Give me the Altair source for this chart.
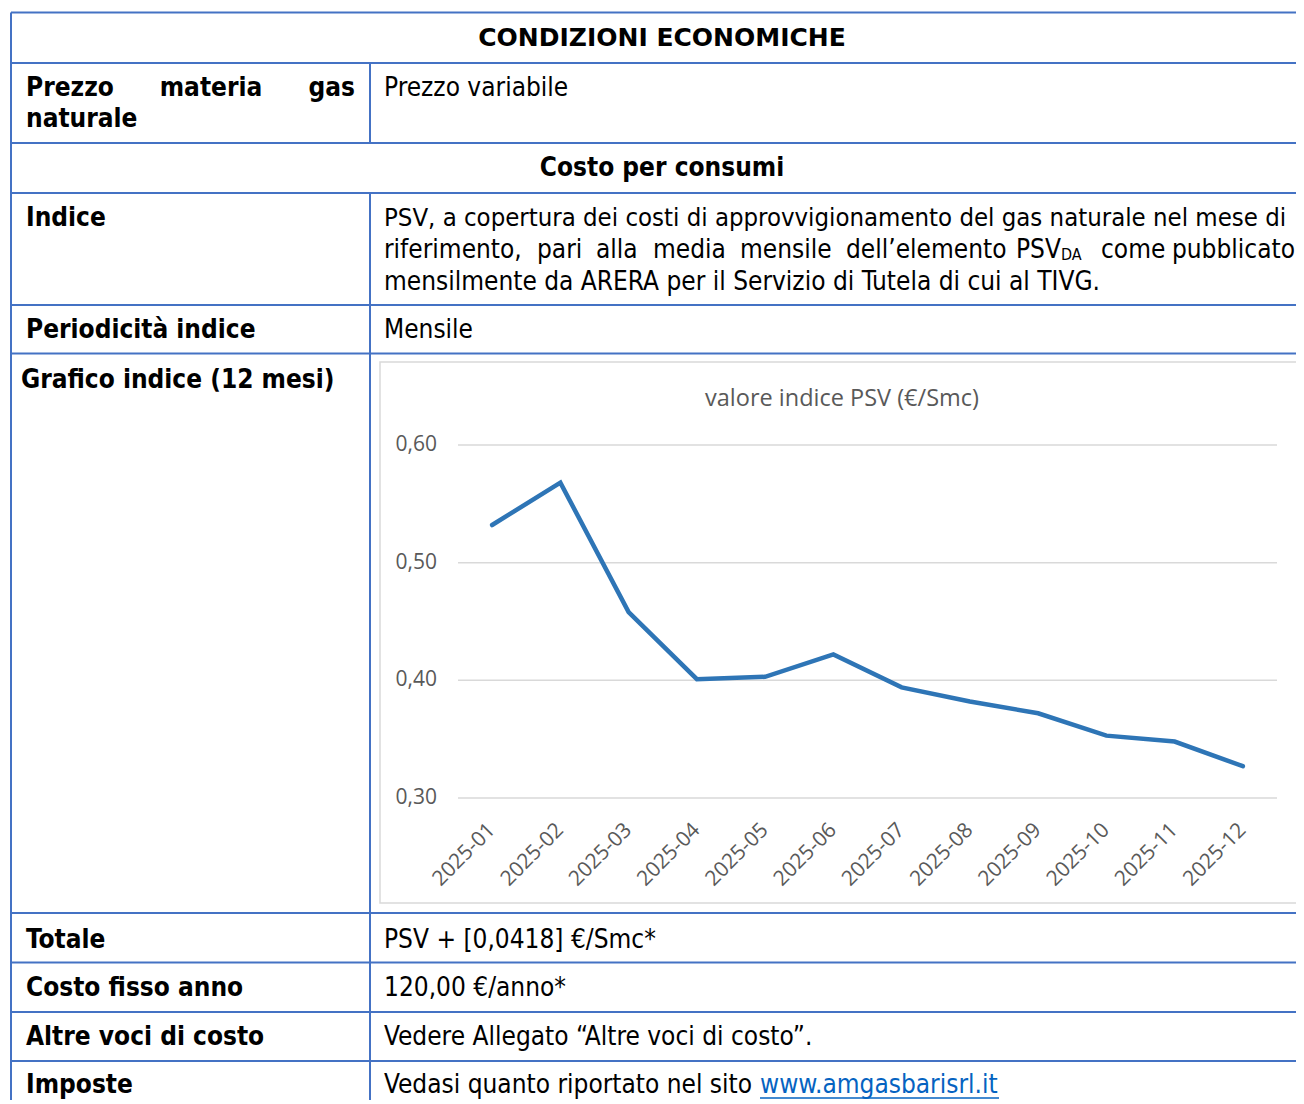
import altair as alt
import pandas as pd

# ---------------- data ----------------
months = ["2025-01", "2025-02", "2025-03", "2025-04", "2025-05", "2025-06",
          "2025-07", "2025-08", "2025-09", "2025-10", "2025-11", "2025-12"]
psv = [0.532, 0.568, 0.458, 0.401, 0.403, 0.422, 0.394, 0.382, 0.372, 0.353, 0.348, 0.327]
y_ticks = [0.30, 0.40, 0.50, 0.60]
y_tick_labels = ["0,30", "0,40", "0,50", "0,60"]
chart_title = "valore indice PSV (€/Smc)"

table_title = "CONDIZIONI ECONOMICHE"
section_title = "Costo per consumi"
label_words_row1 = ["Prezzo", "materia", "gas"]
label_row1_line2 = "naturale"
value_row1 = "Prezzo variabile"
left_labels = ["Indice", "Periodicità indice", "Grafico indice (12 mesi)", "Totale",
               "Costo fisso anno", "Altre voci di costo", "Imposte"]
right_values = ["Mensile", "PSV + [0,0418] €/Smc*", "120,00 €/anno*",
                "Vedere Allegato “Altre voci di costo”.", "Vedasi quanto riportato nel sito"]
desc_line1 = "PSV, a copertura dei costi di approvvigionamento del gas naturale nel mese di"
desc_line2_words = ["riferimento,", "pari", "alla", "media", "mensile", "dell’elemento", "PSV"]
desc_line2_sub = "DA"
desc_line2_tail = ["come", "pubblicato"]
desc_line3 = "mensilmente da ARERA per il Servizio di Tutela di cui al TIVG."
link_text = "www.amgasbarisrl.it"

# ---------------- layout (page pixels) ----------------
W, H = 1288, 1092
OX, OY = 8, 8
TF = "DejaVu Sans Condensed"
TFB = "DejaVu Sans"
CF = "Open Sans"
BLUE = "#4472C4"
FS = 26

px = alt.Scale(domain=[OX, OX + W], range=[0, W], nice=False, zero=False)
py = alt.Scale(domain=[OY, OY + H], range=[0, H], nice=False, zero=False)


def X(f="x"):
    return alt.X(f"{f}:Q", scale=px, axis=None)


def Y(f="y"):
    return alt.Y(f"{f}:Q", scale=py, axis=None)


h_lines_y = [12.5, 63, 143, 193, 305, 353.5, 913, 962.5, 1012, 1061]
rules = pd.DataFrame(
    [{"x": 11, "x2": 1330, "y": y, "y2": y} for y in h_lines_y]
    + [{"x": 11, "x2": 11, "y": 12.5, "y2": 1120},
       {"x": 370, "x2": 370, "y": 63, "y2": 143},
       {"x": 370, "x2": 370, "y": 193, "y2": 1120}]
)
table_rules = alt.Chart(rules).mark_rule(color=BLUE, strokeWidth=2).encode(
    x=X(), x2="x2:Q", y=Y(), y2="y2:Q")


def text_layer(df, align, weight="normal", size=FS, color="black", font=TF):
    return alt.Chart(df).mark_text(align=align, baseline="middle", font=font,
                                   fontSize=size, fontWeight=weight, color=color).encode(
        x=X(), y=Y(), text="t:N")


title_df = pd.DataFrame({"t": [table_title], "x": [662], "y": [38]})
bold_center = pd.DataFrame({"t": [section_title], "x": [662], "y": [168]})
bold_left = pd.DataFrame({
    "t": [label_words_row1[0], label_row1_line2] + left_labels,
    "x": [26, 26, 26, 26, 21, 26, 26, 26, 26],
    "y": [88, 119, 218, 330, 380, 940, 988, 1037, 1085]})
bold_mid = pd.DataFrame({"t": [label_words_row1[1]], "x": [211], "y": [88]})
bold_right = pd.DataFrame({"t": [label_words_row1[2]], "x": [355], "y": [88]})

line1_df = pd.DataFrame({"t": [desc_line1], "x": [384], "y": [218]})
reg_left = pd.DataFrame({
    "t": [value_row1] + desc_line2_words + [desc_line2_tail[0], desc_line3] + right_values,
    "x": [384, 384, 537, 596, 653, 740, 846, 1016, 1101, 384, 384, 384, 384, 384, 384],
    "y": [88, 250, 250, 250, 250, 250, 250, 250, 250, 282, 330, 940, 988, 1037, 1085]})
reg_right = pd.DataFrame({"t": [desc_line2_tail[1]], "x": [1295], "y": [250]})
sub_df = pd.DataFrame({"t": [desc_line2_sub], "x": [1061], "y": [255]})
link_df = pd.DataFrame({"t": [link_text], "x": [760], "y": [1085]})
underline = pd.DataFrame({"x": [760], "x2": [999], "y": [1098], "y2": [1098]})

# ---------------- embedded chart ----------------
frame = pd.DataFrame({"x": [380], "x2": [1303], "y": [362], "y2": [903]})
frame_layer = alt.Chart(frame).mark_rect(fill="white", stroke="#D9D9D9", strokeWidth=1.5).encode(
    x=X(), x2="x2:Q", y=Y(), y2="y2:Q")

xs = alt.Scale(domain=months, range=[458 - OX, 1277 - OX], padding=0.5)
ys = alt.Scale(domain=[0.30, 0.60], range=[798 - OY, 445 - OY], nice=False, zero=False)

series = pd.DataFrame({"month": months, "psv": psv})
ticks = pd.DataFrame({"v": y_ticks, "lab": y_tick_labels})

grid = alt.Chart(ticks).mark_rule(color="#D9D9D9", strokeWidth=1.5).encode(
    y=alt.Y("v:Q", scale=ys, axis=None),
    x=alt.value(458 - OX), x2=alt.value(1277 - OX))
ylabels = alt.Chart(ticks).mark_text(align="right", baseline="middle", font=CF,
                                     fontSize=21, color="#595959").encode(
    y=alt.Y("v:Q", scale=ys, axis=None), x=alt.value(437 - OX), text="lab:N")
xlabels = alt.Chart(series).mark_text(align="right", baseline="middle", font=CF,
                                      fontSize=21, color="#595959", angle=315).encode(
    x=alt.X("month:O", scale=xs, axis=None), y=alt.value(827 - OY), text="month:N")
line = alt.Chart(series).mark_line(color="#2E75B6", strokeWidth=4.5,
                                   strokeCap="round", strokeJoin="miter").encode(
    x=alt.X("month:O", scale=xs, axis=None),
    y=alt.Y("psv:Q", scale=ys, axis=None))
ctitle = alt.Chart(pd.DataFrame({"t": [chart_title], "x": [842], "y": [399]})).mark_text(
    align="center", baseline="middle", font=CF, fontSize=23.5, color="#595959").encode(
    x=X(), y=Y(), text="t:N")

chart = alt.layer(
    frame_layer,
    table_rules,
    text_layer(title_df, "center", "bold", size=25, font=TFB),
    text_layer(bold_center, "center", "bold", size=26),
    text_layer(bold_left, "left", "bold", size=26),
    text_layer(bold_mid, "center", "bold", size=26),
    text_layer(bold_right, "right", "bold", size=26),
    text_layer(line1_df, "left", size=25.5),
    text_layer(reg_left, "left"),
    text_layer(reg_right, "right"),
    text_layer(sub_df, "left", size=16),
    text_layer(link_df, "left", color="#0563C1"),
    alt.Chart(underline).mark_rule(color="#0563C1", strokeWidth=1.5).encode(
        x=X(), x2="x2:Q", y=Y(), y2="y2:Q"),
    ctitle,
    grid,
    ylabels,
    xlabels,
    line,
).resolve_scale(x="independent", y="independent").properties(
    width=W, height=H, padding=0, autosize=alt.AutoSizeParams(type="none")
).configure_view(stroke=None)

chart.save("out.html", embed_options={"renderer": "svg", "actions": False})
